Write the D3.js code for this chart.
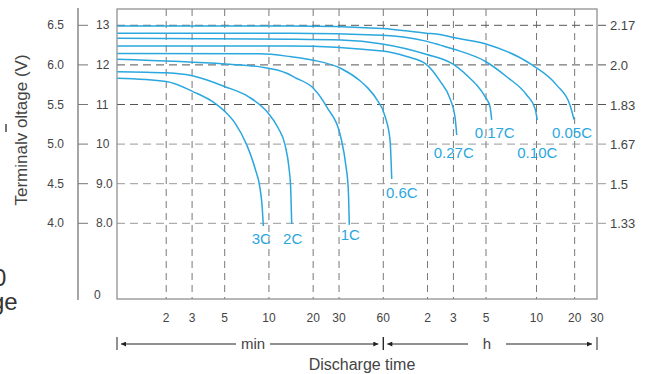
<!DOCTYPE html>
<html>
  <head>
    <meta http-equiv="Content-type" content="text/html; charset=utf-8"/>
    <title>Discharge Curves</title>
    <script src="https://d3js.org/d3.v7.min.js"></script>
    <style>
      body { margin: 0; background: #fff; }
      svg { display: block; font-family: "Liberation Sans", Arial, sans-serif; }
    </style>
  </head>
  <body>
    <svg width="646" height="374"></svg>
    <script>
      // ### Data ###
      var voltTicks = [13, 12, 11, 10, 9, 8];
      var voltLabels = ["13", "12", "11", "10", "9.0", "8.0"];
      var cellLabels = ["6.5", "6.0", "5.5", "5.0", "4.5", "4.0"];
      var perCellLabels = ["2.17", "2.0", "1.83", "1.67", "1.5", "1.33"];
      var minTicks = [2, 3, 5, 10, 20, 30, 60];
      var hourTicks = [2, 3, 5, 10, 20, 30];

      var rates = ["3C", "2C", "1C", "0.6C", "0.27C", "0.17C", "0.10C", "0.05C"];

      // [discharge time in minutes, terminal voltage in V]
      var curve3C = [[0.93,11.66],[2,11.58],[3.06,11.32],[4.3,11.03],[5.03,10.82],[5.88,10.53],
                     [7.06,9.98],[8.04,9.39],[8.7,8.88],[9.01,8.38],[9.16,7.93]];
      var curve2C = [[0.93,11.83],[2,11.80],[3.06,11.72],[5.03,11.45],[7.24,11.20],[9.9,10.78],
                     [11.58,10.40],[12.87,9.98],[13.7,9.39],[14.07,8.88],[14.29,7.98]];
      var curve1C = [[0.93,12.14],[5.03,12.02],[8.7,11.95],[13.21,11.79],[15.05,11.68],[20.05,11.41],
                     [24.73,10.94],[30.94,10.15],[33.46,9.43],[34.69,8.84],[35.23,7.96]];
      var curve06C = [[0.93,12.29],[8.7,12.28],[13.92,12.21],[20.05,12.12],[30.94,11.91],[41.66,11.60],
                      [47,11.42],[54.14,11.13],[61.6,10.71],[66.7,10.10],[68.5,9.12]];
      var curve027C = [[0.93,12.48],[13.92,12.48],[59.1,12.35],[86.6,12.21],[117.2,12.02],[146,11.59],
                       [170.7,11.15],[184.6,10.69],[189.6,10.23]];
      var curve017C = [[0.93,12.67],[13.92,12.65],[30.94,12.63],[59.1,12.53],[117.2,12.27],[179,12.02],
                       [245.9,11.58],[259.4,11.49],[300,11.16],[316.9,10.95],[324.4,10.61]];
      var curve010C = [[0.93,12.80],[13.92,12.80],[59.1,12.75],[117.2,12.60],[146,12.50],[180,12.40],
                       [300,12.08],[398.6,11.70],[524.5,11.24],[587.9,10.90],[608.8,10.61]];
      var curve005C = [[0.93,12.98],[13.92,12.98],[59.1,12.92],[117.2,12.80],[146,12.77],[179.7,12.69],
                       [300,12.53],[564,12.0],[865.8,11.49],[1102,10.99],[1185,10.62]];

      var curves = [curve3C, curve2C, curve1C, curve06C, curve027C, curve017C, curve010C, curve005C];

      // ### Layout ###
      var svg = d3.select("svg");
      var plot = {left: 117, right: 597, top: 9, bottom: 299};
      var blue = "#2aa7df";
      var grey = "#444";

      // log time axis, slightly stretched on the hour side as in the original
      var x = d3.scaleLog()
          .domain([0.925, 300, 600, 1800])
          .range([plot.left, 486, 536.5, plot.right]);

      var y = d3.scaleLinear()
          .domain([8, 13])
          .range([223.3, 25.3]);

      // label offsets (px) from each curve's end point
      var labelOffset = {"3C": [-2, 18], "2C": [1, 20], "1C": [1, 15], "0.6C": [10, 19],
                         "0.27C": [-3, 23], "0.17C": [3, 18], "0.10C": [0, 38], "0.05C": [-2, 18]};

      // grid - vertical
      var allTicks = minTicks.concat(hourTicks.slice(0, -1).map(function(h) { return h * 60; }));
      svg.append("g").selectAll("line")
        .data(allTicks)
        .join("line")
          .attr("x1", function(d) { return x(d); })
          .attr("x2", function(d) { return x(d); })
          .attr("y1", plot.top)
          .attr("y2", plot.bottom)
          .attr("stroke", "#777")
          .attr("stroke-dasharray", "7,5");

      // grid - horizontal
      svg.append("g").selectAll("line")
        .data(voltTicks)
        .join("line")
          .attr("x1", plot.left)
          .attr("x2", plot.right + 9)
          .attr("y1", function(d) { return y(d); })
          .attr("y2", function(d) { return y(d); })
          .attr("stroke", function(d) { return d >= 11 ? "#555" : "#999"; })
          .attr("stroke-dasharray", "8,5");

      // plot frame
      svg.append("rect")
          .attr("x", plot.left)
          .attr("y", plot.top)
          .attr("width", plot.right - plot.left)
          .attr("height", plot.bottom - plot.top)
          .attr("fill", "none")
          .attr("stroke", "#888")
          .attr("stroke-width", 1.2);

      // separate left axis line with ticks
      svg.append("line")
          .attr("x1", 78).attr("x2", 78)
          .attr("y1", 8).attr("y2", 300)
          .attr("stroke", "#888")
          .attr("stroke-width", 1.5);
      svg.append("g").selectAll("line")
        .data(voltTicks)
        .join("line")
          .attr("x1", 78).attr("x2", 88)
          .attr("y1", function(d) { return y(d); })
          .attr("y2", function(d) { return y(d); })
          .attr("stroke", "#777");

      var tickFont = function(sel, size) {
        sel.attr("font-size", size).attr("fill", grey);
      };

      svg.append("g").selectAll("text")
        .data(voltTicks)
        .join("text")
          .attr("x", 64)
          .attr("y", function(d) { return y(d) + 4; })
          .attr("text-anchor", "end")
          .text(function(d, i) { return cellLabels[i]; })
          .call(tickFont, 12);

      svg.append("g").selectAll("text")
        .data(voltTicks)
        .join("text")
          .attr("x", 96)
          .attr("y", function(d) { return y(d) + 4; })
          .text(function(d, i) { return voltLabels[i]; })
          .call(tickFont, 12);

      svg.append("text")
          .attr("x", 94)
          .attr("y", plot.bottom)
          .text("0")
          .call(tickFont, 12);

      svg.append("g").selectAll("text")
        .data(voltTicks)
        .join("text")
          .attr("x", 610)
          .attr("y", function(d) { return y(d) + 5; })
          .text(function(d, i) { return perCellLabels[i]; })
          .call(tickFont, 13);

      // x tick labels
      svg.append("g").selectAll("text")
        .data(allTicks.concat([1800]))
        .join("text")
          .attr("x", function(d) { return x(d); })
          .attr("y", 322)
          .attr("text-anchor", "middle")
          .text(function(d) { return d > 60 ? d / 60 : d; })
          .call(tickFont, 12);

      // curves
      var line = d3.line()
          .x(function(d) { return x(d[0]); })
          .y(function(d) { return y(d[1]); })
          .curve(d3.curveMonotoneX);

      svg.append("g").selectAll("path")
        .data(curves)
        .join("path")
          .attr("fill", "none")
          .attr("stroke", blue)
          .attr("stroke-width", 1.5)
          .attr("d", line);

      svg.append("g").selectAll("text")
        .data(curves)
        .join("text")
          .attr("x", function(d, i) { return x(d[d.length - 1][0]) + labelOffset[rates[i]][0]; })
          .attr("y", function(d, i) { return y(d[d.length - 1][1]) + labelOffset[rates[i]][1]; })
          .attr("text-anchor", "middle")
          .attr("font-size", 15)
          .attr("fill", blue)
          .text(function(d, i) { return rates[i]; });

      // min / h span row
      svg.append("defs").append("marker")
          .attr("id", "arrow")
          .attr("viewBox", "0 0 10 10")
          .attr("refX", 10).attr("refY", 5)
          .attr("markerWidth", 7).attr("markerHeight", 5)
          .attr("markerUnits", "userSpaceOnUse")
          .attr("orient", "auto-start-reverse")
        .append("path")
          .attr("d", "M0,0L10,5L0,10Z")
          .attr("fill", "#222");

      var spans = [[0.925, 60, "min", 253, 17], [60, 1800, "h", 487, 19]];
      var rowY = 344;
      spans.forEach(function(s) {
        var x0 = x(s[0]), x1 = x(s[1]);
        [x0, x1].forEach(function(b) {
          svg.append("line")
              .attr("x1", b).attr("x2", b)
              .attr("y1", rowY - 7).attr("y2", rowY + 6)
              .attr("stroke", "#222");
        });
        svg.append("line")
            .attr("x1", s[3] - s[4]).attr("x2", x0 + 4)
            .attr("y1", rowY).attr("y2", rowY)
            .attr("stroke", "#222")
            .attr("marker-end", "url(#arrow)");
        svg.append("line")
            .attr("x1", s[3] + s[4]).attr("x2", x1 - 5)
            .attr("y1", rowY).attr("y2", rowY)
            .attr("stroke", "#222")
            .attr("marker-end", "url(#arrow)");
        svg.append("text")
            .attr("x", s[3])
            .attr("y", rowY + 5)
            .attr("text-anchor", "middle")
            .attr("font-size", 15)
            .attr("fill", grey)
            .text(s[2]);
      });

      svg.append("text")
          .attr("x", 362)
          .attr("y", 370)
          .attr("text-anchor", "middle")
          .attr("font-size", 16)
          .attr("fill", grey)
          .text("Discharge time");

      svg.append("text")
          .attr("transform", "translate(27,130) rotate(-90)")
          .attr("text-anchor", "middle")
          .attr("font-size", 17)
          .attr("fill", grey)
          .text("Terminalv oltage (V)");
      svg.append("line")
          .attr("x1", 6).attr("x2", 6)
          .attr("y1", 124).attr("y2", 132)
          .attr("stroke", grey)
          .attr("stroke-width", 1.5);

      // cropped text fragments at the left edge
      svg.append("text").attr("x", -7).attr("y", 286)
          .attr("font-size", 24).attr("fill", "#333").text("0");
      svg.append("text").attr("x", -9).attr("y", 310)
          .attr("font-size", 24).attr("fill", "#333").text("ge");
    </script>
  </body>
</html>
